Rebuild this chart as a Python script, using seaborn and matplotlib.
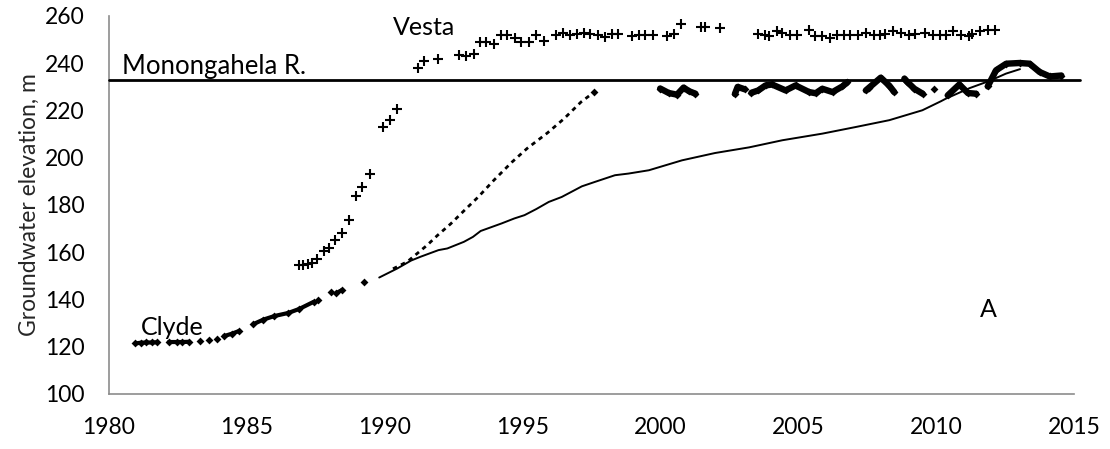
import numpy as np
import pandas as pd
import matplotlib
matplotlib.use("Agg")
import matplotlib.pyplot as plt
import seaborn as sns

# ---------------- data ----------------
vesta_year = [1986.88, 1987.05, 1987.20, 1987.35, 1987.53, 1987.79, 1987.97, 1988.19, 1988.44, 1988.70,
              1988.95, 1989.17, 1989.47, 1989.95, 1990.20, 1990.45, 1991.22, 1991.44, 1991.95, 1992.71,
              1992.96, 1993.22, 1993.44, 1993.69, 1993.95, 1994.20, 1994.45, 1994.71, 1994.96, 1995.22,
              1995.47, 1995.76, 1996.20, 1996.45, 1996.71, 1996.96, 1997.22, 1997.44, 1997.73, 1997.98,
              1998.24, 1998.45, 1998.96, 1999.22, 1999.44, 1999.73, 2000.24, 2000.49, 2000.75, 2001.47,
              2001.62, 2002.16, 2003.55, 2003.80, 2003.95, 2004.24, 2004.42, 2004.71, 2004.96, 2005.40,
              2005.62, 2005.87, 2006.16, 2006.42, 2006.67, 2006.89, 2007.15, 2007.47, 2007.73, 2007.95,
              2008.13, 2008.42, 2008.71, 2009.00, 2009.25, 2009.58, 2009.87, 2010.13, 2010.35, 2010.60,
              2010.89, 2011.18, 2011.29, 2011.58, 2011.87, 2012.15]
vesta_elev = [154.7, 154.8, 155.0, 155.3, 157.0, 160.5, 161.9, 165.1, 168.0, 173.6,
              183.7, 187.7, 193.0, 213.0, 216.0, 220.5, 238.0, 241.0, 242.0, 243.5,
              243.0, 244.0, 249.0, 249.0, 248.0, 252.0, 252.0, 250.5, 249.0, 249.0,
              252.0, 249.5, 252.0, 253.0, 252.0, 252.5, 253.0, 252.5, 252.0, 251.0,
              252.5, 252.5, 251.5, 252.0, 252.0, 252.0, 251.5, 252.5, 256.5, 255.5,
              255.5, 255.0, 252.5, 252.0, 251.5, 253.5, 253.0, 252.0, 252.0, 254.0,
              251.5, 251.5, 250.5, 252.0, 252.0, 252.0, 252.0, 253.0, 252.0, 252.0,
              252.5, 253.5, 253.0, 252.0, 252.5, 253.0, 252.0, 252.0, 252.0, 253.5,
              252.0, 251.5, 252.5, 253.5, 254.0, 254.0]

# Clyde observations (segment id groups contiguous runs of dense readings)
clyde_year = [1980.96, 1981.15, 1981.35, 1981.55, 1981.75,
              1982.17, 1982.45, 1982.65, 1982.90,
              1983.29, 1983.62, 1983.93,
              1984.17, 1984.45, 1984.70,
              1985.24, 1985.60, 1986.00, 1986.50, 1986.90, 1987.42,
              1987.57, 1988.05, 1988.24, 1988.45, 1989.25,
              1997.60,
              1999.99, 2000.30, 2000.60, 2000.84, 2001.03, 2001.27,
              2002.70, 2002.80, 2003.05,
              2003.30, 2003.55, 2003.81, 2004.05, 2004.54, 2004.90, 2005.39, 2005.63, 2005.87, 2006.24, 2006.60, 2006.78,
              2007.45, 2007.57, 2007.99, 2008.30, 2008.48,
              2008.85, 2008.96, 2009.21, 2009.51,
              2009.93,
              2010.42, 2010.84, 2011.15, 2011.45,
              2011.87, 2012.17, 2012.54, 2013.03, 2013.39, 2013.75, 2014.12, 2014.54]
clyde_elev = [121.4, 121.7, 121.8, 121.8, 121.9,
              122.0, 122.0, 122.0, 122.1,
              122.5, 122.7, 123.1,
              124.5, 125.5, 126.6,
              129.6, 131.5, 133.0, 134.3, 136.0, 139.0,
              139.7, 143.3, 142.7, 144.0, 147.5,
              228.0,
              229.3, 227.4, 226.7, 229.7, 228.2, 227.1,
              227.0, 230.0, 229.0,
              227.5, 228.5, 230.6, 231.0, 228.5, 230.6, 227.8, 227.3, 229.2, 227.8, 230.2, 232.0,
              228.5, 229.7, 233.9, 230.5, 227.8,
              233.5, 232.0, 229.2, 227.1,
              229.2,
              226.4, 231.0, 227.4, 227.1,
              230.2, 237.0, 239.8, 240.1, 239.8, 236.3, 234.4, 234.8]
clyde_seg = [0, 0, 0, 0, 0,
             1, 1, 1, 1,
             2, 3, 4,
             5, 5, 5,
             6, 6, 6, 6, 6, 6,
             7, 8, 9, 9, 10,
             11,
             12, 12, 12, 12, 12, 12,
             13, 13, 13,
             14, 14, 14, 14, 14, 14, 14, 14, 14, 14, 14, 14,
             15, 15, 15, 15, 15,
             16, 16, 16, 16,
             17,
             18, 18, 18, 18,
             19, 19, 19, 19, 19, 19, 19, 19]

# dotted series (dense small points)
dotted_year = [1990.30, 1990.82, 1991.18, 1991.54, 1991.90, 1992.39, 1992.87, 1993.40, 1993.96,
               1994.60, 1995.17, 1995.90, 1996.50, 1997.12, 1997.45]
dotted_elev = [153.0, 156.0, 159.5, 163.0, 167.0, 172.0, 177.5, 183.5, 190.5,
               198.0, 204.0, 210.5, 216.5, 223.6, 226.5]

# thin solid series
solid_year = [1989.80, 1990.45, 1990.96, 1991.30, 1991.95, 1992.27, 1992.87, 1993.20, 1993.48, 1994.24,
              1994.70, 1995.07, 1995.50, 1995.95, 1996.42, 1997.15, 1997.63, 1998.35, 1998.84, 1999.58,
              2000.78, 2001.98, 2003.22, 2004.42, 2005.87, 2007.08, 2008.30, 2009.50, 2010.17, 2010.35,
              2011.22, 2011.95, 2012.53, 2013.04]
solid_elev = [149.3, 153.1, 156.5, 158.1, 160.9, 161.6, 164.4, 166.5, 169.0, 172.2,
              174.3, 175.7, 178.3, 181.3, 183.4, 187.9, 189.8, 192.6, 193.3, 194.7,
              198.9, 202.0, 204.4, 207.4, 210.2, 213.0, 215.9, 220.1, 223.9, 225.0,
              229.5, 232.6, 235.6, 237.5]

river_level = 233.0
x_ticks = [1980, 1985, 1990, 1995, 2000, 2005, 2010, 2015]
y_ticks = [100, 120, 140, 160, 180, 200, 220, 240, 260]
y_label = "Groundwater elevation, m"

# ---------------- plot ----------------
sns.set_theme(style="white")
plt.rcParams["font.family"] = ["Lato", "DejaVu Sans"]
FS = 16.5

fig, ax = plt.subplots(figsize=(11.1, 4.49), dpi=100)
fig.subplots_adjust(left=0.0982, right=0.9676, bottom=0.1225, top=0.9644)

clyde = pd.DataFrame({"year": clyde_year, "elev": clyde_elev, "seg": clyde_seg})
early = clyde[clyde["year"] < 1990]
late = clyde[clyde["year"] >= 1990]

sns.lineplot(data=pd.DataFrame({"year": solid_year, "elev": solid_elev}), x="year", y="elev",
             color="black", lw=1.4, ax=ax, sort=False, estimator=None)
sns.lineplot(data=pd.DataFrame({"year": dotted_year, "elev": dotted_elev}), x="year", y="elev",
             color="black", lw=2.0, ax=ax, sort=False, estimator=None, linestyle=(0, (1.6, 1.6)))

sns.lineplot(data=early, x="year", y="elev", units="seg", estimator=None, sort=False,
             color="black", lw=3.0, ax=ax)
sns.lineplot(data=late, x="year", y="elev", units="seg", estimator=None, sort=False,
             color="black", lw=4.6, ax=ax)
sns.scatterplot(data=clyde, x="year", y="elev", marker="D", s=16, color="black",
                edgecolor="black", linewidth=0, ax=ax)

sns.scatterplot(x=vesta_year, y=vesta_elev, marker="+", s=60, color="black", linewidth=1.5, ax=ax)

ax.axhline(river_level, xmin=0, xmax=1.006, color="black", lw=2.0, clip_on=False, zorder=3)

ax.set_xlim(1980, 2015)
ax.set_ylim(100, 260)
ax.set_xticks(x_ticks)
ax.set_yticks(y_ticks)
ax.set_xlabel("")
ax.set_ylabel(y_label, fontsize=FS, labelpad=4)

for s in ["top", "right"]:
    ax.spines[s].set_visible(False)
for s in ["left", "bottom"]:
    ax.spines[s].set_color("#8c8c8c")
    ax.spines[s].set_linewidth(1.2)
ax.tick_params(axis="both", which="major", direction="out", length=4.5, width=1.2,
               color="#8c8c8c", labelsize=FS, labelcolor="black")
ax.tick_params(axis="y", pad=13)
ax.tick_params(axis="x", pad=12)
ax.grid(False)

ax.text(1980.46, 235.3, "Monongahela R.", fontsize=FS + 2, va="baseline", ha="left", color="black")
ax.text(1991.43, 251.8, "Vesta", fontsize=FS + 1.5, va="baseline", ha="center", color="black")
ax.text(1981.15, 125.0, "Clyde", fontsize=FS + 1.5, va="baseline", ha="left", color="black")
ax.text(2011.9, 132.7, "A", fontsize=FS + 1.5, va="baseline", ha="center", color="black")

fig.savefig("out.png", dpi=100, facecolor="white")
